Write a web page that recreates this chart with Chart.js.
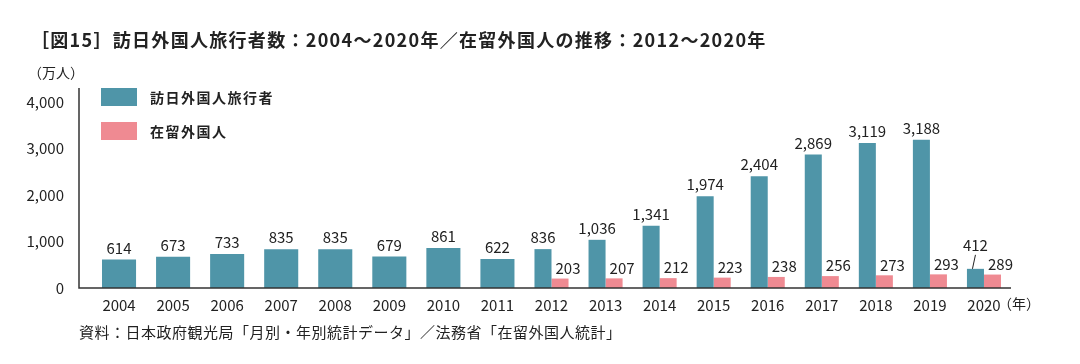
<!DOCTYPE html>
<html>
<head>
<meta charset="utf-8">
<script src="https://cdn.jsdelivr.net/npm/chart.js@4"></script>
<style>
    body { margin: 0; background: #fff; font-family: "Noto Sans CJK JP", "Noto Sans", sans-serif; color: #222; }
    #wrap { position: relative; width: 1080px; height: 364px; overflow: hidden; }
    #chart { position: absolute; left: 0; top: 0; }
    .title { position: absolute; left: 31px; top: 26px; font-size: 18px; font-weight: bold; letter-spacing: 1.3px; white-space: nowrap; }
    .unit { position: absolute; left: 28px; top: 62px; font-size: 14px; }
    .source { position: absolute; left: 79px; top: 321px; font-size: 15px; letter-spacing: 0.5px; white-space: nowrap; }
    .legend { position: absolute; left: 101px; font-size: 14px; font-weight: bold; letter-spacing: 1.5px; white-space: nowrap; line-height: 18px; }
    .legend span { display: inline-block; width: 36px; height: 18px; vertical-align: top; margin-right: 13px; }
</style>
</head>
<body>
<div id="wrap">
    <canvas id="chart" width="1080" height="364"></canvas>
    <div class="title">［図15］訪日外国人旅行者数：2004～2020年／在留外国人の推移：2012～2020年</div>
    <div class="unit">（万人）</div>
    <div class="legend" style="top:88px"><span style="background:#4f95a8"></span>訪日外国人旅行者</div>
    <div class="legend" style="top:122px"><span style="background:#ef8a92"></span>在留外国人</div>
    <div class="source">資料：日本政府観光局「月別・年別統計データ」／法務省「在留外国人統計」</div>
</div>
<script>
const years = ['2004', '2005', '2006', '2007', '2008', '2009', '2010', '2011', '2012',
    '2013', '2014', '2015', '2016', '2017', '2018', '2019', '2020'];
const visitors = [614, 673, 733, 835, 835, 679, 861, 622, 836, 1036, 1341, 1974, 2404, 2869, 3119, 3188, 412];
const residents = [null, null, null, null, null, null, null, null, 203, 207, 212, 223, 238, 256, 273, 293, 289];
const yTicks = [0, 1000, 2000, 3000, 4000];

const fontFamily = '"Noto Sans CJK JP", "Noto Sans", sans-serif';

// axis lines sit a bit left of the first category, like the original
const axisLines = {
    id: 'axisLines',
    afterDraw(chart) {
        const ctx = chart.ctx;
        const area = chart.chartArea;
        ctx.save();
        ctx.strokeStyle = '#333';
        ctx.lineWidth = 1.5;
        ctx.beginPath();
        ctx.moveTo(79, area.top);
        ctx.lineTo(79, area.bottom);
        ctx.lineTo(area.right, area.bottom);
        ctx.stroke();
        ctx.fillStyle = '#222';
        ctx.font = '14px ' + fontFamily;
        ctx.textAlign = 'left';
        ctx.textBaseline = 'middle';
        ctx.fillText('（年）', area.right - 13, area.bottom + 16);
        ctx.restore();
    }
};

const valueLabels = {
    id: 'valueLabels',
    afterDatasetsDraw(chart) {
        const ctx = chart.ctx;
        ctx.save();
        ctx.fillStyle = '#222';
        ctx.strokeStyle = '#222';
        ctx.lineWidth = 1;
        ctx.font = '15px ' + fontFamily;
        ctx.textAlign = 'center';
        ctx.textBaseline = 'bottom';
        chart.data.datasets.forEach((ds, di) => {
            chart.getDatasetMeta(di).data.forEach((bar, i) => {
                const v = ds.data[i];
                if (v == null) return;
                const text = v.toLocaleString('en-US');
                if (di === 0) {
                    if (i === ds.data.length - 1) {
                        // last one is lifted with a small leader line
                        ctx.fillText(text, bar.x, bar.y - 16);
                        ctx.beginPath();
                        ctx.moveTo(bar.x, bar.y - 14);
                        ctx.lineTo(bar.x - 3, bar.y);
                        ctx.stroke();
                    } else {
                        ctx.fillText(text, bar.x, bar.y - 4);
                    }
                } else {
                    ctx.fillText(text, bar.x + 8, bar.y - 3);
                }
            });
        });
        ctx.restore();
    }
};

const ctx = document.getElementById('chart').getContext('2d');
const chart = new Chart(ctx, {
    type: 'bar',
    data: {
        labels: years,
        datasets: [
            {
                label: '訪日外国人旅行者',
                data: visitors,
                backgroundColor: '#4f95a8',
                categoryPercentage: 0.63,
                barPercentage: 1,
                skipNull: true
            },
            {
                label: '在留外国人',
                data: residents,
                backgroundColor: '#ef8a92',
                categoryPercentage: 0.63,
                barPercentage: 1,
                skipNull: true
            }
        ]
    },
    options: {
        responsive: false,
        animation: false,
        layout: {
            padding: { top: 88, bottom: 36, left: 0, right: 69 }
        },
        plugins: {
            legend: { display: false },
            tooltip: { enabled: false }
        },
        scales: {
            x: {
                grid: { display: false },
                border: { display: false },
                ticks: {
                    color: '#222',
                    padding: 0,
                    maxRotation: 0,
                    font: { family: fontFamily, size: 15 }
                },
                afterFit: function(scale) {
                    scale.height = 40;
                }
            },
            y: {
                min: 0,
                max: 4300,
                grid: { display: false },
                border: { display: false },
                afterBuildTicks: function(scale) {
                    scale.ticks = yTicks.map(v => ({ value: v }));
                },
                ticks: {
                    color: '#222',
                    padding: 20,
                    font: { family: fontFamily, size: 15 },
                    callback: function(value) {
                        return value.toLocaleString('en-US');
                    }
                },
                afterFit: function(scale) {
                    scale.width = 92;
                }
            }
        }
    },
    plugins: [axisLines, valueLabels]
});
</script>
</body>
</html>
